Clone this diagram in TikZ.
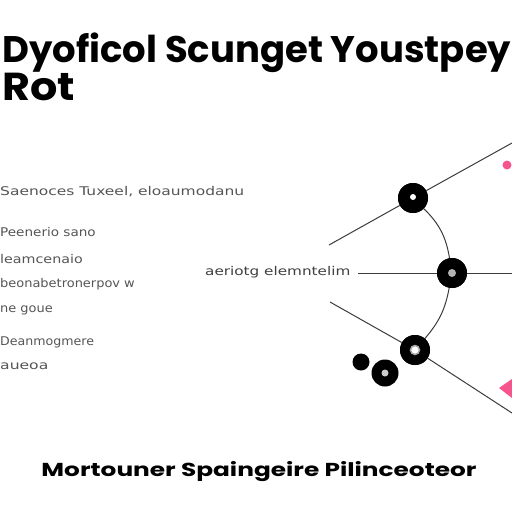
\documentclass[tikz,border=0pt]{standalone}
\usepackage{fontspec}
\setmainfont{Poppins}
\newfontfamily\smallfont{DejaVu Sans}
\usetikzlibrary{shapes.geometric}
\definecolor{pinkc}{RGB}{245,85,140}
\definecolor{txtgray}{RGB}{85,85,85}
\definecolor{linegray}{RGB}{60,60,60}
\tikzset{
  title/.style={anchor=base west,inner sep=0,font=\fontsize{39}{39}\selectfont\bfseries},
  foot/.style={anchor=base,inner sep=0,font=\fontsize{19}{19}\selectfont\bfseries},
  side/.style={anchor=west,inner sep=0,text=txtgray,font=\smallfont\fontsize{12}{12}\selectfont},
  bignode/.style={circle,fill=black,minimum size=30pt,inner sep=0},
  conn/.style={draw=linegray,line width=1pt},
}
\begin{document}
\begin{tikzpicture}[x=1pt,y=-1pt]
\useasboundingbox[fill=white] (0,0) rectangle (512,512);
\node[title] (t1) at (2,62) {\resizebox{509pt}{!}{Dyoficol Scunget Youstpey}};
\node[title] (t2) at (2,100) {\scalebox{1.1}[1]{Rot}};
\node[side] (s1) at (0,192) {\scalebox{1.29}[1]{Saenoces Tuxeel, eloaumodanu}};
\node[side] (s2) at (0,232) {\scalebox{1.13}[1]{Peenerio sano}};
\node[side] (s3) at (0,259) {\scalebox{1.19}[1]{leamcenaio}};
\node[side] (s4) at (0,284) {\scalebox{1.08}[1]{beonabetronerpov w}};
\node[side] (s5) at (0,310) {\scalebox{1.08}[1]{ne goue}};
\node[side] (s6) at (0,342) {\scalebox{1.05}[1]{Deanmogmere}};
\node[side] (s7) at (0,366) {\scalebox{1.3}[1]{aueoa}};
\node[side,text=black!75] (lab) at (205,272) {\scalebox{1.27}[1]{aeriotg elemntelim}};
\coordinate (a1) at (329,245);
\coordinate (b1) at (512,143);
\coordinate (a2) at (358,273);
\coordinate (b2) at (512,273);
\coordinate (a3) at (330,302);
\coordinate (b3) at (512,413);
\node[bignode] (n1) at (413,198) {};
\node[bignode] (n2) at (452,273) {};
\node[bignode] (n3) at (415,350) {};
\draw[conn] (a1) -- (n1) -- (b1);
\draw[conn] (a2) -- (n2) -- (b2);
\draw[conn] (a3) -- (n3) -- (b3);
\draw[conn] (n1) to[bend left=18] (n2);
\draw[conn] (n2) to[bend left=15] (n3);
\node[bignode] at (413,198) {};
\node[bignode] at (452,273) {};
\node[bignode] at (415,350) {};
\node[circle,fill=white,minimum size=6pt,inner sep=0] (c1) at (413,197) {};
\node[circle,fill=gray!60,minimum size=8pt,inner sep=0] (c2) at (452,273) {};
\node[circle,draw=gray!70,line width=1.5pt,fill=white,minimum size=9pt,inner sep=0] (c3) at (415,350) {};
\node[circle,fill=black,minimum size=17pt,inner sep=0] (d1) at (361,362) {};
\node[circle,fill=black,minimum size=27pt,inner sep=0] (d2) at (385,373) {};
\node[circle,fill=gray!40,minimum size=7pt,inner sep=0] (d2c) at (385,373) {};
\node[circle,fill=pinkc,minimum size=9pt,inner sep=0] (p1) at (507,165) {};
\fill[pinkc] (499,388) -- (512,379) -- (512,398) -- cycle;
\node[foot] (f) at (259,476) {\resizebox{435pt}{15pt}{Mortouner Spaingeire Pilinceoteor}};
\end{tikzpicture}
\end{document}
